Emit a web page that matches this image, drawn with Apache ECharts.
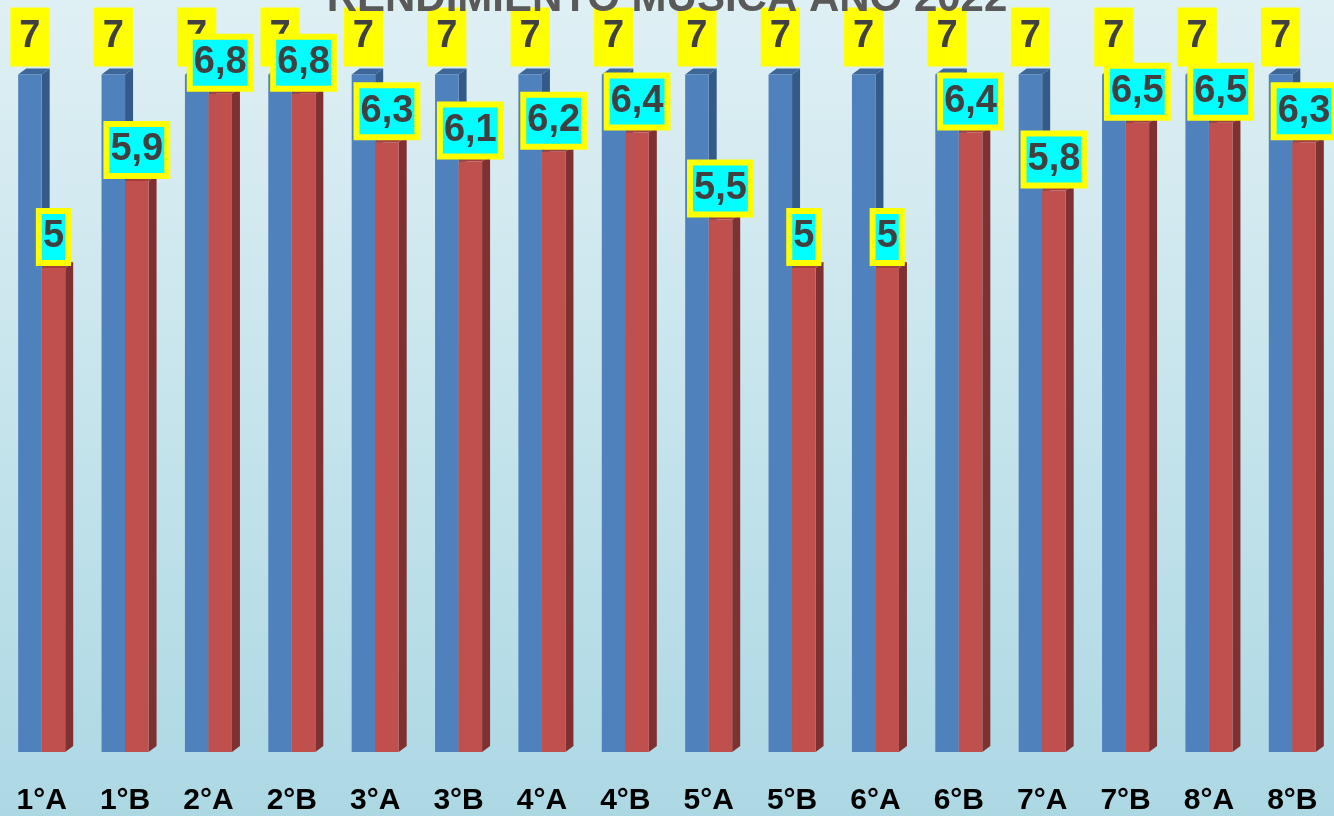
<!DOCTYPE html>
<html>
<head>
<meta charset="utf-8">
<script src="https://cdn.jsdelivr.net/npm/echarts@6/dist/echarts.min.js"></script>
<style>
  html, body { margin: 0; padding: 0; }
  #main { width: 1334px; height: 816px; }
</style>
</head>
<body>
<div id="main"></div>
<script>
const categories = ['1°A', '1°B', '2°A', '2°B', '3°A', '3°B', '4°A', '4°B', '5°A', '5°B', '6°A', '6°B', '7°A', '7°B', '8°A', '8°B'];
const metaValues = [7, 7, 7, 7, 7, 7, 7, 7, 7, 7, 7, 7, 7, 7, 7, 7];
const logroValues = [5, 5.9, 6.8, 6.8, 6.3, 6.1, 6.2, 6.4, 5.5, 5, 5, 6.4, 5.8, 6.5, 6.5, 6.3];

const BAR_RATIO = 0.282;
const DX = 8, DY = 6;

// caras laterales y superiores para el efecto 3D
function depthRenderer(side, topColor, sideColor) {
    return function (params, api) {
        const idx = api.value(0);
        const val = api.value(1);
        const pt = api.coord([idx, val]);
        const base = api.coord([idx, 0]);
        const bw = api.size([1, 0])[0] * BAR_RATIO;
        const left = side === 'left' ? pt[0] - bw : pt[0];
        const right = left + bw;
        return {
            type: 'group',
            children: [
                {
                    type: 'polygon',
                    shape: { points: [[right, pt[1]], [right + DX, pt[1] - DY], [right + DX, base[1] - DY], [right, base[1]]] },
                    style: { fill: sideColor }
                },
                {
                    type: 'polygon',
                    shape: { points: [[left, pt[1]], [left + DX, pt[1] - DY], [right + DX, pt[1] - DY], [right, pt[1]]] },
                    style: { fill: topColor }
                }
            ]
        };
    };
}

const chart = echarts.init(document.getElementById('main'));
const fmt = function (p) { return String(p.value).replace('.', ','); };

const option = {
    backgroundColor: {
        type: 'linear', x: 0, y: 0, x2: 0, y2: 1,
        colorStops: [
            { offset: 0, color: '#dff0f4' },
            { offset: 0.5, color: '#c6e4ec' },
            { offset: 1, color: '#acd8e4' }
        ]
    },
    animation: false,
    title: {
        text: 'RENDIMIENTO MÚSICA AÑO 2022',
        left: 'center',
        top: -27,
        textStyle: {
            fontFamily: 'Liberation Sans',
            fontSize: 42,
            fontWeight: 'bold',
            color: '#595959'
        }
    },
    grid: { left: 0, right: 0, top: 26, bottom: 62 },
    xAxis: {
        type: 'category',
        data: categories,
        axisLine: { show: false },
        axisTick: { show: false },
        axisLabel: {
            margin: 34,
            fontFamily: 'Liberation Sans',
            fontSize: 30,
            fontWeight: 'bold',
            color: '#000'
        }
    },
    yAxis: {
        type: 'value',
        min: 0,
        max: 7.5,
        show: false,
        splitLine: { show: false }
    },
    series: [
        {
            type: 'bar',
            name: 'Meta',
            data: metaValues,
            barWidth: (BAR_RATIO * 100) + '%',
            barGap: '0%',
            z: 2,
            itemStyle: { color: '#4f81bd' },
            label: {
                show: true,
                position: 'top',
                distance: 8,
                formatter: fmt,
                fontFamily: 'Liberation Sans',
                fontSize: 38,
                fontWeight: 'bold',
                color: '#404040',
                lineHeight: 37,
                backgroundColor: '#ffff00',
                padding: [11, 9, 11, 9]
            }
        },
        {
            type: 'bar',
            name: 'Logro',
            data: logroValues,
            barWidth: (BAR_RATIO * 100) + '%',
            barGap: '0%',
            z: 3,
            itemStyle: { color: '#c0504d' },
            label: {
                show: true,
                position: 'top',
                distance: 8,
                formatter: fmt,
                fontFamily: 'Liberation Sans',
                fontSize: 38,
                fontWeight: 'bold',
                color: '#404040',
                lineHeight: 40,
                backgroundColor: '#00ffff',
                borderColor: '#ffff00',
                borderWidth: 6,
                padding: [3, 1, 3, 1]
            }
        },
        {
            type: 'custom',
            z: 2,
            renderItem: depthRenderer('left', '#3d6699', '#345a87'),
            encode: { x: 0, y: 1 },
            data: metaValues.map(function (v, i) { return [i, v]; })
        },
        {
            type: 'custom',
            z: 3,
            renderItem: depthRenderer('right', '#a3403d', '#7f3131'),
            encode: { x: 0, y: 1 },
            data: logroValues.map(function (v, i) { return [i, v]; })
        }
    ]
};

chart.setOption(option);
</script>
</body>
</html>
